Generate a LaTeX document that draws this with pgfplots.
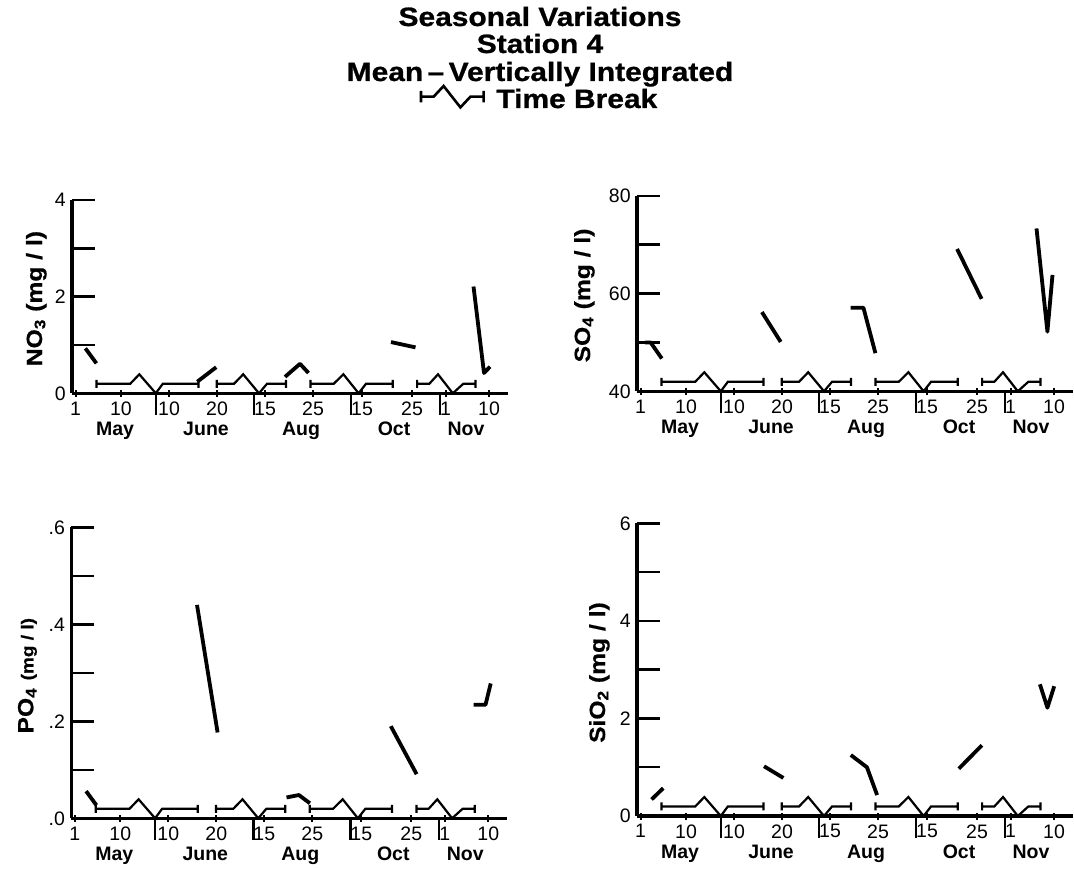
\documentclass[border=0pt]{standalone}
\usepackage{pgfplots}
\pgfplotsset{compat=1.18}
\usepackage{fontspec}
\setmainfont{Liberation Sans}
\newfontfamily\titlefont[FakeStretch=1.13, BoldFeatures={FakeBold=0.9}]{Liberation Sans}
\newfontfamily\labelfont[FakeStretch=1.12, BoldFeatures={FakeBold=0.6}]{Liberation Sans}

\pgfplotsset{
  panel/.style={
    scale only axis, width=218pt, anchor=south west, clip=false,
    xmin=0, xmax=436, enlargelimits=false,
    axis x line*=bottom, axis y line*=left,
    axis line style={line width=1.6pt, black},
    x axis line style={line width=1.6pt, black},
    y axis line style={line width=1.6pt, black},
    tick align=inside,
    tick style={black},
    xtick={3.5,49,97,145,193,241,290,340,373.5,417},
    xticklabels={1,10,10,20,15,25,15,25,1,10},
    xtick style={black, line width=1pt, /pgfplots/major tick length=3.5pt, yshift=-1.75pt},
    ytick style={black, line width=1.2pt, /pgfplots/major tick length=11.5pt},
    minor tick num=0,
    xticklabel style={inner sep=0pt, anchor=north, yshift=-4pt, font=\fontsize{9.75}{10}\selectfont},
    yticklabel style={inner sep=0pt, anchor=east, xshift=-3pt, font=\fontsize{9.75}{10}\selectfont},
  },
  data/.style={black, line width=1.9pt, line join=round},
  brk/.style={black, line width=1.1pt, line join=miter},
}
\tikzset{
  ylab/.style={rotate=90, anchor=base, inner sep=0pt, font=\labelfont\bfseries\fontsize{11}{12}\selectfont},
  mon/.style={anchor=base, inner sep=0pt, font=\bfseries\fontsize{9.75}{10}\selectfont},
  bline/.style={line width=1.1pt, black},
}

\begin{document}
\begin{tikzpicture}
\path[use as bounding box] (0,0) rectangle (537pt,434pt);

% Title
\node[anchor=base, font=\titlefont\bfseries\fontsize{13.25}{14}\selectfont] at (270pt,421pt) {Seasonal Variations};
\node[anchor=base, font=\titlefont\bfseries\fontsize{13.25}{14}\selectfont] at (270pt,407.5pt) {Station 4};
\node[anchor=base, font=\titlefont\bfseries\fontsize{13.25}{14}\selectfont] at (270pt,393.5pt) {Mean\,\textendash\,Vertically Integrated};
\draw[line width=1.3pt] (210.5pt,382.8pt) -- (210.5pt,388.5pt) (210.5pt,385.65pt) -- (216.8pt,385.65pt) -- (221.8pt,391pt) -- (230.2pt,380.3pt) -- (235.2pt,385.65pt) -- (241.8pt,385.65pt) (241.8pt,382.8pt) -- (241.8pt,388.5pt);
\node[anchor=base west, inner sep=0pt, font=\titlefont\bfseries\fontsize{13.25}{14}\selectfont] at (248pt,380pt) {Time Break};

% ---------------- NO3 ----------------
\begin{axis}[panel, at={(36pt,237.35pt)}, height=96.65pt,
  ymin=0, ymax=4, ytick={0,1,2,3,4}, yticklabels={0,,2,,4}]
\addplot[brk] coordinates {(24.5,0.114) (24.5,0.28) (24.5,0.197) (58.2,0.197) (67.3,0.393) (83.8,0) (90.8,0.197) (126.5,0.197) (126.5,0.28) (126.5,0.114)};
\addplot[brk] coordinates {(144.7,0.114) (144.7,0.28) (144.7,0.197) (162,0.197) (171.2,0.393) (187,0) (195,0.197) (214,0.197) (214,0.28) (214,0.114)};
\addplot[brk] coordinates {(238.5,0.114) (238.5,0.28) (238.5,0.197) (261.7,0.197) (271.4,0.393) (286.6,0) (294,0.197) (320.7,0.197) (320.7,0.28) (320.7,0.114)};
\addplot[brk] coordinates {(345.1,0.114) (345.1,0.28) (345.1,0.197) (357.3,0.197) (366,0.393) (380.8,0) (391.3,0.197) (403.4,0.197) (403.4,0.28) (403.4,0.114)};
\addplot[data] coordinates {(13.4,0.93) (24.4,0.62)};
\addplot[data] coordinates {(125.3,0.24) (144.2,0.54)};
\addplot[data] coordinates {(213,0.34) (228,0.61) (236.5,0.42)};
\addplot[data] coordinates {(319,1.06) (343.5,0.95)};
\addplot[data] coordinates {(401.5,2.21) (412,0.42) (418,0.55)};
\draw[bline] (axis cs:83.8,0) -- ([yshift=-11pt]axis cs:83.8,0);
\draw[bline] (axis cs:182.2,0) -- ([yshift=-11pt]axis cs:182.2,0);
\draw[bline] (axis cs:279.2,0) -- ([yshift=-11pt]axis cs:279.2,0);
\draw[bline] (axis cs:368,0) -- ([yshift=-11pt]axis cs:368,0);
\node[mon] at ([yshift=-21.25pt]axis cs:43,0) {May};
\node[mon] at ([yshift=-21.25pt]axis cs:134,0) {June};
\node[mon] at ([yshift=-21.25pt]axis cs:229,0) {Aug};
\node[mon] at ([yshift=-21.25pt]axis cs:322,0) {Oct};
\node[mon] at ([yshift=-21.25pt]axis cs:394,0) {Nov};
\node[ylab] at ([xshift=-15pt]rel axis cs:0,0.49) {NO\textsubscript{3} (mg / l)};
\end{axis}

% ---------------- SO4 ----------------
\begin{axis}[panel, at={(318.5pt,238.35pt)}, height=97.8pt,
  ymin=40, ymax=80, ytick={40,50,60,70,80}, yticklabels={40,,60,,80}]
\addplot[brk] coordinates {(24.5,41.12) (24.5,42.76) (24.5,41.94) (58.2,41.94) (67.3,43.89) (83.8,40) (90.8,41.94) (126.5,41.94) (126.5,42.76) (126.5,41.12)};
\addplot[brk] coordinates {(144.7,41.12) (144.7,42.76) (144.7,41.94) (162,41.94) (171.2,43.89) (187,40) (195,41.94) (214,41.94) (214,42.76) (214,41.12)};
\addplot[brk] coordinates {(238.5,41.12) (238.5,42.76) (238.5,41.94) (261.7,41.94) (271.4,43.89) (286.6,40) (294,41.94) (320.7,41.94) (320.7,42.76) (320.7,41.12)};
\addplot[brk] coordinates {(345.1,41.12) (345.1,42.76) (345.1,41.94) (357.3,41.94) (366,43.89) (380.8,40) (391.3,41.94) (403.4,41.94) (403.4,42.76) (403.4,41.12)};
\addplot[data] coordinates {(8,50) (13.6,50) (24.8,46.7)};
\addplot[data] coordinates {(124.9,56.2) (143.7,50.1)};
\addplot[data] coordinates {(213.5,57.1) (226.4,57.1) (238.4,47.8)};
\addplot[data] coordinates {(320.1,69.1) (344.6,58.9)};
\addplot[data] coordinates {(399.5,73.3) (410.4,52.2) (415.5,63.8)};
\draw[bline] (axis cs:83.8,40) -- ([yshift=-11pt]axis cs:83.8,40);
\draw[bline] (axis cs:182.2,40) -- ([yshift=-11pt]axis cs:182.2,40);
\draw[bline] (axis cs:279.2,40) -- ([yshift=-11pt]axis cs:279.2,40);
\draw[bline] (axis cs:368,40) -- ([yshift=-11pt]axis cs:368,40);
\node[mon] at ([yshift=-21.25pt]axis cs:43,40) {May};
\node[mon] at ([yshift=-21.25pt]axis cs:134,40) {June};
\node[mon] at ([yshift=-21.25pt]axis cs:229,40) {Aug};
\node[mon] at ([yshift=-21.25pt]axis cs:322,40) {Oct};
\node[mon] at ([yshift=-21.25pt]axis cs:394,40) {Nov};
\node[ylab] at ([xshift=-23.5pt]rel axis cs:0,0.49) {SO\textsubscript{4} (mg / l)};
\end{axis}

% ---------------- PO4 ----------------
\begin{axis}[panel, at={(35.65pt,24.85pt)}, height=145.5pt,
  ymin=0, ymax=0.6, ytick={0,0.1,0.2,0.3,0.4,0.5,0.6}, yticklabels={.0,,.2,,.4,,.6}]
\addplot[brk] coordinates {(24.5,0.0113) (24.5,0.0278) (24.5,0.0196) (58.2,0.0196) (67.3,0.0392) (83.8,0) (90.8,0.0196) (126.5,0.0196) (126.5,0.0278) (126.5,0.0113)};
\addplot[brk] coordinates {(144.7,0.0113) (144.7,0.0278) (144.7,0.0196) (162,0.0196) (171.2,0.0392) (187,0) (195,0.0196) (214,0.0196) (214,0.0278) (214,0.0113)};
\addplot[brk] coordinates {(238.5,0.0113) (238.5,0.0278) (238.5,0.0196) (261.7,0.0196) (271.4,0.0392) (286.6,0) (294,0.0196) (320.7,0.0196) (320.7,0.0278) (320.7,0.0113)};
\addplot[brk] coordinates {(345.1,0.0113) (345.1,0.0278) (345.1,0.0196) (357.3,0.0196) (366,0.0392) (380.8,0) (391.3,0.0196) (403.4,0.0196) (403.4,0.0278) (403.4,0.0113)};
\addplot[data] coordinates {(14.8,0.056) (25.1,0.027)};
\addplot[data] coordinates {(125.7,0.44) (146.3,0.177)};
\addplot[data] coordinates {(215.2,0.043) (227.6,0.048) (238.6,0.031)};
\addplot[data] coordinates {(319.5,0.19) (345.3,0.091)};
\addplot[data] coordinates {(402.2,0.234) (414.2,0.234) (419.4,0.278)};
\draw[bline] (axis cs:83.8,0) -- ([yshift=-11pt]axis cs:83.8,0);
\draw[bline] (axis cs:182.2,0) -- ([yshift=-11pt]axis cs:182.2,0);
\draw[bline] (axis cs:279.2,0) -- ([yshift=-11pt]axis cs:279.2,0);
\draw[bline] (axis cs:368,0) -- ([yshift=-11pt]axis cs:368,0);
\node[mon] at ([yshift=-21.25pt]axis cs:43,0) {May};
\node[mon] at ([yshift=-21.25pt]axis cs:134,0) {June};
\node[mon] at ([yshift=-21.25pt]axis cs:229,0) {Aug};
\node[mon] at ([yshift=-21.25pt]axis cs:322,0) {Oct};
\node[mon] at ([yshift=-21.25pt]axis cs:394,0) {Nov};
\node[ylab] at ([xshift=-19pt]rel axis cs:0,0.49) {PO\textsubscript{4} {\fontsize{8.5}{9}\selectfont (mg / l)}};
\end{axis}

% ---------------- SiO2 ----------------
\begin{axis}[panel, at={(318.5pt,26pt)}, height=146.35pt,
  ymin=0, ymax=6, ytick={0,1,2,3,4,5,6}, yticklabels={0,,2,,4,,6}]
\addplot[brk] coordinates {(24.5,0.113) (24.5,0.277) (24.5,0.195) (58.2,0.195) (67.3,0.389) (83.8,0) (90.8,0.195) (126.5,0.195) (126.5,0.277) (126.5,0.113)};
\addplot[brk] coordinates {(144.7,0.113) (144.7,0.277) (144.7,0.195) (162,0.195) (171.2,0.389) (187,0) (195,0.195) (214,0.195) (214,0.277) (214,0.113)};
\addplot[brk] coordinates {(238.5,0.113) (238.5,0.277) (238.5,0.195) (261.7,0.195) (271.4,0.389) (286.6,0) (294,0.195) (320.7,0.195) (320.7,0.277) (320.7,0.113)};
\addplot[brk] coordinates {(345.1,0.113) (345.1,0.277) (345.1,0.195) (357.3,0.195) (366,0.389) (380.8,0) (391.3,0.195) (403.4,0.195) (403.4,0.277) (403.4,0.113)};
\addplot[data] coordinates {(14.6,0.34) (26.2,0.57)};
\addplot[data] coordinates {(127,1.02) (146.4,0.78)};
\addplot[data] coordinates {(213.8,1.25) (229.9,1.0) (240.1,0.43)};
\addplot[data] coordinates {(321.8,0.97) (344.9,1.45)};
\addplot[data] coordinates {(402.9,2.70) (410.4,2.22) (417.2,2.66)};
\draw[bline] (axis cs:83.8,0) -- ([yshift=-11pt]axis cs:83.8,0);
\draw[bline] (axis cs:182.2,0) -- ([yshift=-11pt]axis cs:182.2,0);
\draw[bline] (axis cs:279.2,0) -- ([yshift=-11pt]axis cs:279.2,0);
\draw[bline] (axis cs:368,0) -- ([yshift=-11pt]axis cs:368,0);
\node[mon] at ([yshift=-21.25pt]axis cs:43,0) {May};
\node[mon] at ([yshift=-21.25pt]axis cs:134,0) {June};
\node[mon] at ([yshift=-21.25pt]axis cs:229,0) {Aug};
\node[mon] at ([yshift=-21.25pt]axis cs:322,0) {Oct};
\node[mon] at ([yshift=-21.25pt]axis cs:394,0) {Nov};
\node[ylab] at ([xshift=-16pt]rel axis cs:0,0.49) {SiO\textsubscript{2} (mg / l)};
\end{axis}
\end{tikzpicture}
\end{document}
